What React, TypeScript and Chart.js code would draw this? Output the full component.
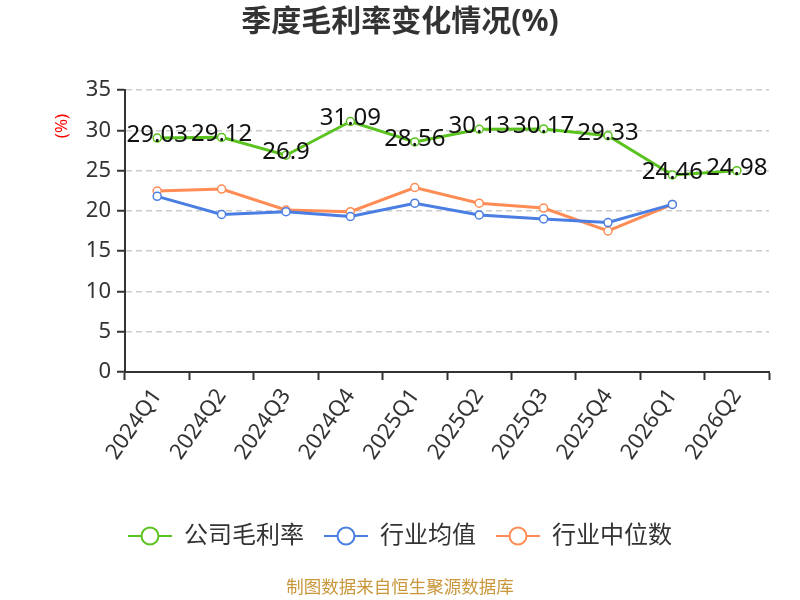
import { useRef, useEffect } from 'react';
import { Chart, registerables } from 'chart.js';

Chart.register(...registerables);

const quarters = ['2024Q1', '2024Q2', '2024Q3', '2024Q4', '2025Q1', '2025Q2', '2025Q3', '2025Q4', '2026Q1', '2026Q2'];
const companyMargin = [29.03, 29.12, 26.9, 31.09, 28.56, 30.13, 30.17, 29.33, 24.46, 24.98];
const industryAvg = [21.8, 19.55, 19.9, 19.3, 20.95, 19.5, 19.0, 18.55, 20.8, null];
const industryMedian = [22.45, 22.7, 20.1, 19.9, 22.9, 20.95, 20.35, 17.5, 20.8, null];

const GREEN = '#5AC31F';
const BLUE = '#4A7EE3';
const ORANGE = '#FF8C55';
const FONT = '"Noto Sans", "Noto Sans CJK SC", sans-serif';

// legend marker: a short line with a hollow circle on it
function legendIcon(color: string) {
  const c = document.createElement('canvas');
  c.width = 44;
  c.height = 20;
  const ctx = c.getContext('2d')!;
  ctx.strokeStyle = color;
  ctx.lineWidth = 2;
  ctx.beginPath();
  ctx.moveTo(0, 10);
  ctx.lineTo(44, 10);
  ctx.stroke();
  ctx.fillStyle = '#fff';
  ctx.beginPath();
  ctx.arc(22, 10, 8.5, 0, Math.PI * 2);
  ctx.fill();
  ctx.stroke();
  return c;
}

const valueLabels = {
  id: 'valueLabels',
  afterDatasetsDraw(chart: any) {
    const ctx = chart.ctx;
    const meta = chart.getDatasetMeta(0);
    ctx.save();
    ctx.font = `24px ${FONT}`;
    ctx.fillStyle = '#111';
    ctx.textAlign = 'center';
    ctx.textBaseline = 'middle';
    meta.data.forEach((pt: any, i: number) => {
      ctx.fillText(String(companyMargin[i]), pt.x, pt.y - 3);
    });
    // y axis unit, rotated, near the top of the axis
    ctx.translate(62, 126);
    ctx.rotate(-Math.PI / 2);
    ctx.font = `17px ${FONT}`;
    ctx.fillStyle = 'red';
    ctx.fillText('(%)', 0, 0);
    ctx.restore();
  },
};

export default function App() {
  const canvasRef = useRef<HTMLCanvasElement | null>(null);

  useEffect(() => {
    document.body.style.margin = '0';
    if (!canvasRef.current) return;
    const series = (label: string, data: any[], color: string) => ({
      label,
      data,
      borderColor: color,
      backgroundColor: '#fff',
      pointBackgroundColor: '#fff',
      pointBorderColor: color,
      pointBorderWidth: 1.5,
      pointRadius: 4,
      borderWidth: 3,
      tension: 0,
      pointStyle: 'circle',
    });
    const chart = new Chart(canvasRef.current, {
      type: 'line',
      data: {
        labels: quarters,
        datasets: [
          series('公司毛利率', companyMargin, GREEN),
          series('行业均值', industryAvg, BLUE),
          series('行业中位数', industryMedian, ORANGE),
        ],
      },
      options: {
        animation: false,
        responsive: false,
        layout: { padding: { left: 31, right: 31, top: 0, bottom: 0 } },
        plugins: {
          title: {
            display: true,
            text: '季度毛利率变化情况(%)',
            color: '#333',
            font: { family: FONT, size: 30, weight: 'bold' },
            padding: { top: 4, bottom: 50 },
          },
          legend: {
            position: 'bottom',
            labels: {
              usePointStyle: true,
              pointStyleWidth: 44,
              generateLabels: () => [
                { text: '公司毛利率', pointStyle: legendIcon(GREEN), fontColor: '#333', strokeStyle: GREEN, lineWidth: 0, datasetIndex: 0 },
                { text: '行业均值', pointStyle: legendIcon(BLUE), fontColor: '#333', strokeStyle: BLUE, lineWidth: 0, datasetIndex: 1 },
                { text: '行业中位数', pointStyle: legendIcon(ORANGE), fontColor: '#333', strokeStyle: ORANGE, lineWidth: 0, datasetIndex: 2 },
              ] as any,
              color: '#333',
              font: { family: FONT, size: 24 },
              padding: 20,
            },
          },
          subtitle: {
            display: true,
            position: 'bottom',
            text: '制图数据来自恒生聚源数据库',
            color: '#C9963A',
            font: { family: FONT, size: 17.5 },
            padding: { top: 20, bottom: 1 },
          },
          tooltip: { enabled: false },
        },
        scales: {
          x: {
            offset: true,
            afterFit: (scale: any) => { scale.height = 132; },
            grid: { display: true, drawOnChartArea: false, drawTicks: true, offset: true, tickLength: 8, tickColor: '#333', tickWidth: 2 },
            border: { color: '#333', width: 2 },
            ticks: { color: '#333', font: { family: FONT, size: 22 }, maxRotation: 55, minRotation: 55, padding: 4 },
          },
          y: {
            min: 0,
            max: 35,
            afterFit: (scale: any) => { scale.width = 94; },
            ticks: { stepSize: 5, color: '#333', font: { family: FONT, size: 22 }, padding: 6 },
            grid: { color: '#ccc', lineWidth: 1.5, tickLength: 8, tickColor: '#333', tickWidth: 2, tickBorderDash: [] },
            border: { color: '#333', width: 2, dash: [6, 4] },
          },
        },
      },
      plugins: [valueLabels],
    });
    return () => chart.destroy();
  }, []);

  return <canvas ref={canvasRef} width={800} height={600} style={{ display: 'block' }} />;
}
